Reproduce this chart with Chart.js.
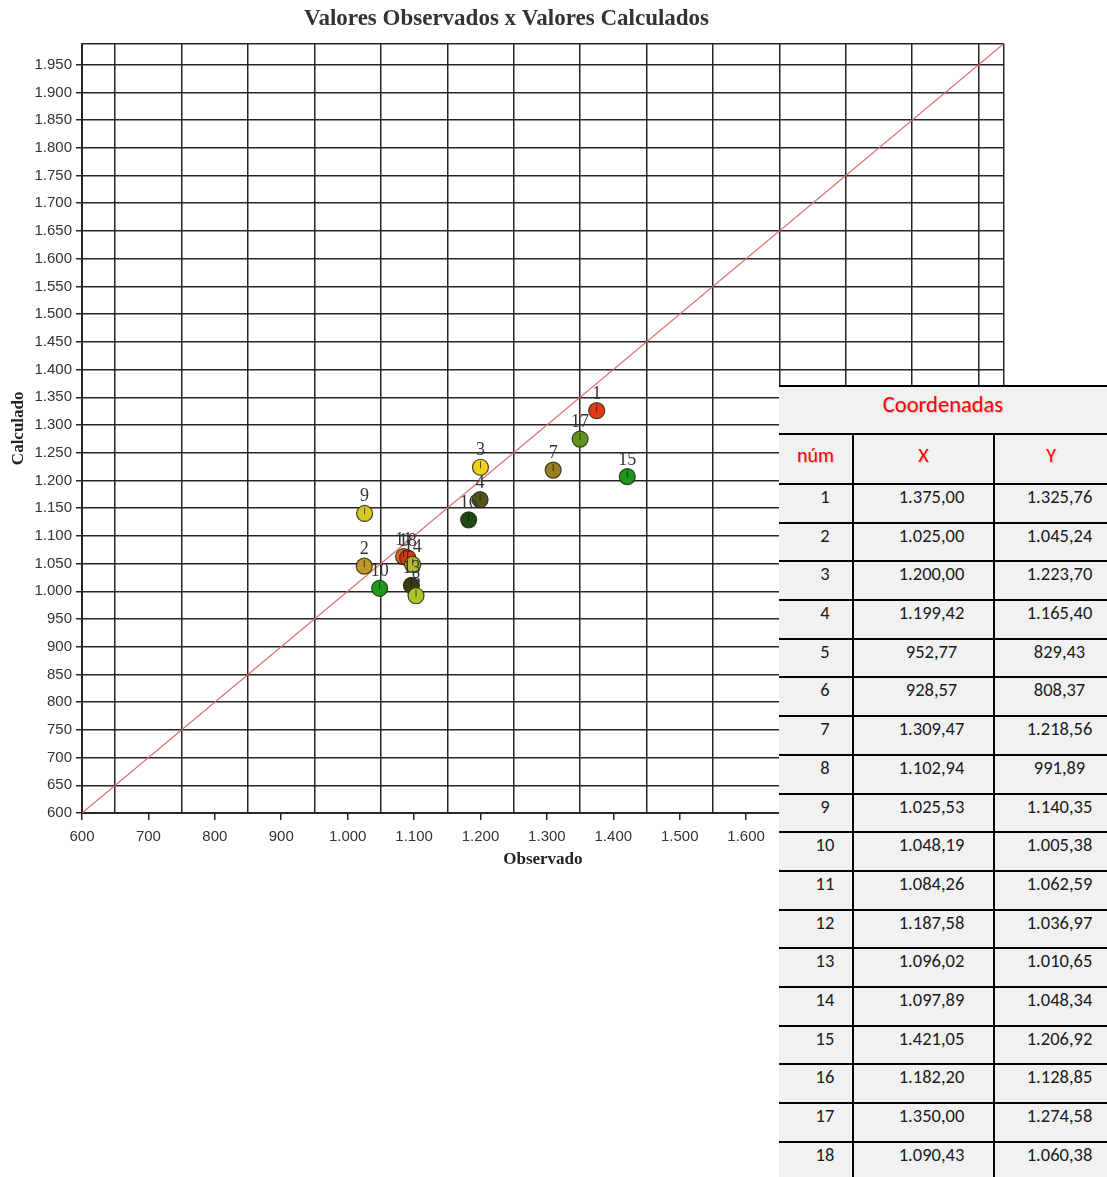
<!DOCTYPE html>
<html lang="pt-BR">
<head>
<meta charset="utf-8">
<title>Valores Observados x Valores Calculados</title>
<script src="https://cdn.jsdelivr.net/npm/chart.js@4.4.1/dist/chart.umd.min.js"></script>
<style>
  html, body { margin: 0; padding: 0; background: #fff; }
  #wrap { position: relative; width: 1107px; height: 1177px; overflow: hidden; }
  #chart-box { position: absolute; left: 0; top: 0; width: 1013px; height: 880px; }
  #coords {
    position: absolute; left: 779px; top: 385px; width: 328px; height: 800px;
    background: #f1f1f1; font-family: "Carlito", "Liberation Sans Narrow", "Open Sans", sans-serif;
    color: #1a1a1a; font-size: 18.5px; line-height: 24px;
  }
  .row { display: flex; box-sizing: border-box; border-top: 2px solid #000; height: 38.7px; }
  .row.title { height: 48px; padding-top: 6px; justify-content: center; font-size: 22.5px; }
  .row.head { height: 50px; font-size: 20px; }
  .cell { box-sizing: border-box; text-align: center; }
  .c1 { width: 73px; padding-left: 19px; }
  .c2 { width: 141px; border-left: 2px solid #000; padding-left: 16px; }
  .c3 { width: 114px; border-left: 2px solid #000; padding-left: 17px; }
  .head .cell { padding-top: 8px; padding-left: 0; color: #f00; }
  .red { color: #f00; text-shadow: 1px 1px 1px rgba(0,0,0,0.2); }
</style>
</head>
<body>
<div id="wrap">
  <div id="chart-box"><canvas id="chart"></canvas></div>
  <div id="coords"></div>
</div>
<script>
// Observado x Calculado scatter with the y = x reference line, plus the
// coordinate table that sits on top of the right side of the chart.

const pointNums = [1, 2, 3, 4, 5, 6, 7, 8, 9, 10, 11, 12, 13, 14, 15, 16, 17, 18];
const obsX = [1375.00, 1025.00, 1200.00, 1199.42, 952.77, 928.57, 1309.47, 1102.94, 1025.53,
  1048.19, 1084.26, 1187.58, 1096.02, 1097.89, 1421.05, 1182.20, 1350.00, 1090.43];
const calcY = [1325.76, 1045.24, 1223.70, 1165.40, 829.43, 808.37, 1218.56, 991.89, 1140.35,
  1005.38, 1062.59, 1036.97, 1010.65, 1048.34, 1206.92, 1128.85, 1274.58, 1060.38];

// points that actually appear on the chart, in drawing order
const plotted = [1, 2, 3, 4, 7, 9, 10, 15, 16, 17, 11, 18, 14, 13, 8];
const plotColors = ["#e03a1c", "#c0962a", "#f0d21c", "#54541a", "#98801e", "#d4c822", "#1e9a1e",
  "#1e961e", "#1e4a14", "#5e9420", "#e06a24", "#d8361a", "#b4b834", "#3a3a14", "#a8c828"];

const axisMin = 600;
const axisMax = 1988;
const yTicks = [600, 650, 700, 750, 800, 850, 900, 950, 1000, 1050, 1100, 1150, 1200, 1250, 1300,
  1350, 1400, 1450, 1500, 1550, 1600, 1650, 1700, 1750, 1800, 1850, 1900, 1950, 1988];
const xTicks = yTicks; // labels on the hundreds, grid lines on the odd fifties
const diagonal = [axisMin, axisMax];

function thousands(n) {
  return String(n).replace(/\B(?=(\d{3})+(?!\d))/g, ".");
}
function fmt2(v) {
  const [i, d] = v.toFixed(2).split(".");
  return `${thousands(i)},${d}`;
}

// coordinate table
const coords = document.getElementById("coords");
coords.innerHTML =
  `<div class="row title"><span class="red">Coordenadas</span></div>` +
  `<div class="row head"><div class="cell c1 red">núm</div><div class="cell c2 red">X</div><div class="cell c3 red">Y</div></div>` +
  pointNums.map((n, i) => `<div class="row"><div class="cell c1">${n}</div><div class="cell c2">${fmt2(obsX[i])}</div><div class="cell c3">${fmt2(calcY[i])}</div></div>`).join("");

const INK = "#262626";

const pointLabels = {
  id: "pointLabels",
  afterDatasetsDraw(chart) {
    const meta = chart.getDatasetMeta(0);
    const ctx = chart.ctx;
    ctx.save();
    ctx.font = "18px 'Liberation Serif', serif";
    ctx.fillStyle = "#333";
    ctx.textAlign = "center";
    ctx.textBaseline = "alphabetic";
    meta.data.forEach((pt, k) => {
      // little slice mark inside the marker
      ctx.strokeStyle = "rgba(20,20,0,0.7)";
      ctx.lineWidth = 1;
      ctx.beginPath();
      ctx.moveTo(pt.x, pt.y + 1);
      ctx.lineTo(pt.x, pt.y - 6);
      ctx.stroke();
      ctx.fillText(String(plotted[k]), pt.x, pt.y - 12);
    });
    ctx.restore();
  },
};

new Chart(document.getElementById("chart"), {
  data: {
    datasets: [
      {
        type: "scatter",
        order: 1,
        data: plotted.map((n) => ({ x: obsX[n - 1], y: calcY[n - 1] })),
        backgroundColor: plotColors,
        borderColor: "rgba(40,40,10,0.85)",
        borderWidth: 1.2,
        pointRadius: 8,
        pointHoverRadius: 8,
      },
      {
        type: "line",
        order: 2,
        data: diagonal.map((v) => ({ x: v, y: v })),
        borderColor: "#e06868",
        borderWidth: 1.2,
        pointRadius: 0,
        fill: false,
      },
    ],
  },
  options: {
    responsive: true,
    maintainAspectRatio: false,
    animation: false,
    layout: { padding: { left: 0, right: 0, top: 0, bottom: 0 } },
    plugins: {
      legend: { display: false },
      tooltip: { enabled: false },
      title: {
        display: true,
        text: "Valores Observados x Valores Calculados",
        color: "#333",
        font: { family: "'Liberation Serif', serif", size: 23, weight: "bold" },
        padding: { top: 5, bottom: 11 },
      },
    },
    scales: {
      x: {
        type: "linear",
        min: axisMin,
        max: axisMax,
        afterBuildTicks: (axis) => { axis.ticks = xTicks.map((v) => ({ value: v })); },
        afterFit: (axis) => { axis.height = 67; },
        border: { color: INK, width: 2 },
        grid: {
          color: (c) => (c.tick && c.tick.value % 100 !== 0 ? INK : "transparent"),
          tickColor: (c) => (c.tick && c.tick.value % 100 === 0 ? INK : "transparent"),
          lineWidth: 1.5,
          tickLength: 7,
        },
        ticks: {
          autoSkip: false,
          maxRotation: 0,
          padding: 8,
          color: "#333",
          font: { family: "'Liberation Sans', sans-serif", size: 15 },
          callback: (v) => (v % 100 === 0 ? thousands(v) : ""),
        },
        title: {
          display: true,
          text: "Observado",
          color: "#222",
          font: { family: "'Liberation Serif', serif", size: 17, weight: "bold" },
          padding: { top: 0, bottom: 10 },
        },
      },
      y: {
        type: "linear",
        min: axisMin,
        max: axisMax,
        afterBuildTicks: (axis) => { axis.ticks = yTicks.map((v) => ({ value: v })); },
        afterFit: (axis) => { axis.width = 82; },
        border: { color: INK, width: 2 },
        grid: {
          color: (c) => (c.tick && c.tick.value !== axisMin ? INK : "transparent"),
          tickColor: (c) => (c.tick && c.tick.value % 50 === 0 ? INK : "transparent"),
          lineWidth: 1.5,
          tickLength: 6,
        },
        ticks: {
          autoSkip: false,
          padding: 4,
          color: "#333",
          font: { family: "'Liberation Sans', sans-serif", size: 15 },
          callback: (v) => (v % 50 === 0 ? thousands(v) : ""),
        },
        title: {
          display: true,
          text: "Calculado",
          color: "#222",
          font: { family: "'Liberation Serif', serif", size: 17, weight: "bold" },
          padding: { top: 8, bottom: 0 },
        },
      },
    },
  },
  plugins: [pointLabels],
});
</script>
</body>
</html>
